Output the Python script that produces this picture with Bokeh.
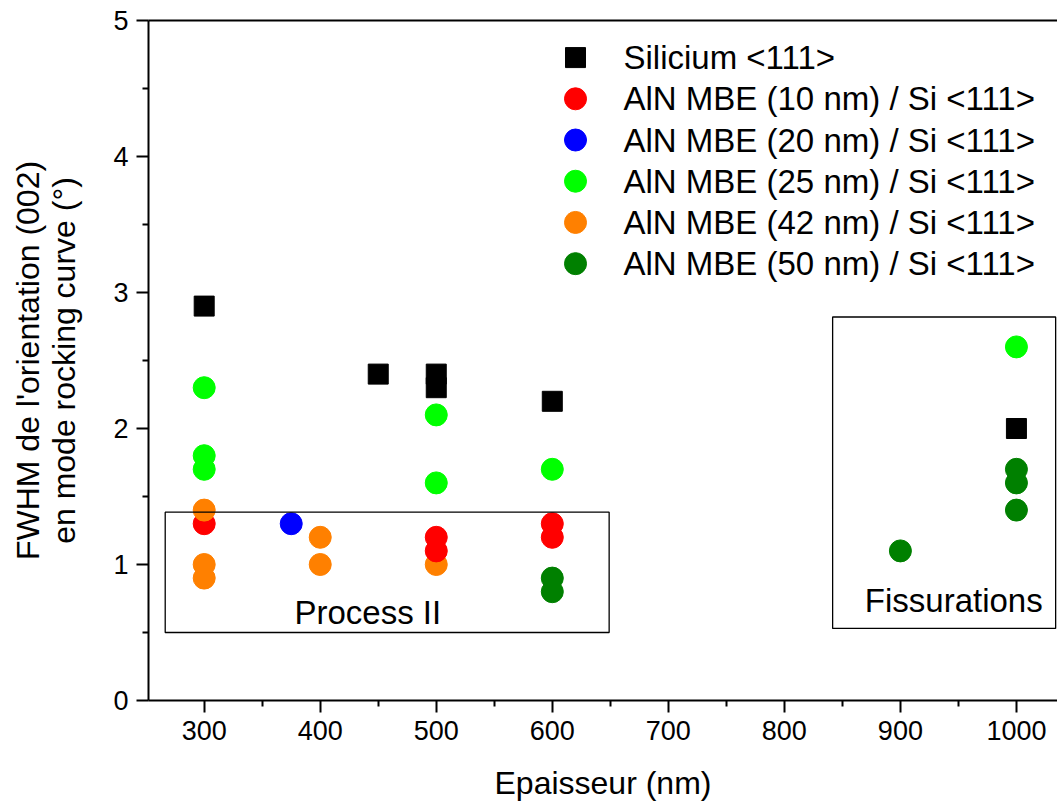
from bokeh.plotting import figure
from bokeh.models import (Range1d, FixedTicker, LinearAxis, BoxAnnotation, Label,
                          ColumnDataSource, CDSView, IndexFilter)
from bokeh.core.properties import value
from bokeh.embed import file_html
from bokeh.resources import INLINE

FONT = "Liberation Sans"

# ---- data ----
x_ticks = [300, 400, 500, 600, 700, 800, 900, 1000]
y_ticks = [0, 1, 2, 3, 4, 5]

si_x = [300, 450, 500, 500, 600, 1000]
si_y = [2.9, 2.4, 2.4, 2.3, 2.2, 2.0]

aln10_x = [300, 500, 500, 600, 600]
aln10_y = [1.3, 1.2, 1.1, 1.3, 1.2]

aln20_x = [375]
aln20_y = [1.3]

aln25_x = [300, 300, 300, 500, 500, 600, 1000]
aln25_y = [2.3, 1.8, 1.7, 2.1, 1.6, 1.7, 2.6]

aln42_x = [300, 300, 300, 400, 400, 500]
aln42_y = [1.4, 1.0, 0.9, 1.2, 1.0, 1.0]

aln50_x = [600, 600, 900, 1000, 1000, 1000]
aln50_y = [0.9, 0.8, 1.1, 1.7, 1.6, 1.4]

series_labels = [
    "Silicium <111>",
    "AlN MBE (10 nm) / Si <111>",
    "AlN MBE (20 nm) / Si <111>",
    "AlN MBE (25 nm) / Si <111>",
    "AlN MBE (42 nm) / Si <111>",
    "AlN MBE (50 nm) / Si <111>",
]
series_colors = ["#000000", "#FF0000", "#0000FF", "#00FF00", "#FF8000", "#008000"]
series_markers = ["square", "circle", "circle", "circle", "circle", "circle"]

x_minor = [x_ticks[0] - 50] + [t + 50 for t in x_ticks]
y_minor = [t + 0.5 for t in y_ticks[:-1]]

# ---- figure ----
p = figure(width=1057, height=805, x_range=Range1d(252, 1035.4), y_range=Range1d(0, 5),
           output_backend="svg", toolbar_location=None,
           min_border_left=148, min_border_right=0, min_border_top=20, min_border_bottom=105)
p.outline_line_color = None
p.grid.visible = False
p.background_fill_color = "white"
# legend rows are placed through an extra range: row index -> vertical slot
p.extra_y_ranges = {"legend": Range1d(start=15.6, end=-0.9)}

p.xaxis.ticker = FixedTicker(ticks=x_ticks, minor_ticks=x_minor)
p.yaxis.ticker = FixedTicker(ticks=y_ticks, minor_ticks=y_minor)
p.xaxis.axis_label = "Epaisseur (nm)"
p.yaxis.axis_label = "FWHM de l'orientation (002)\nen mode rocking curve (°)"

for ax in (p.xaxis[0], p.yaxis[0]):
    ax.axis_line_width = 2
    ax.axis_line_color = "black"
    ax.major_tick_line_width = 2
    ax.minor_tick_line_width = 2
    ax.major_tick_line_color = "black"
    ax.minor_tick_line_color = "black"
    ax.major_tick_in = 0
    ax.major_tick_out = 12
    ax.minor_tick_in = 0
    ax.minor_tick_out = 6
    ax.major_label_text_font = FONT
    ax.major_label_text_font_size = "27px"
    ax.major_label_text_color = "black"
    ax.major_label_standoff = 8
    ax.axis_label_text_font = FONT
    ax.axis_label_text_font_size = "32px"
    ax.axis_label_text_font_style = "normal"
    ax.axis_label_text_color = "black"
    ax.axis_label_text_line_height = 1.0

p.xaxis.axis_label_standoff = 22
p.yaxis.axis_label_standoff = 28

top_axis = LinearAxis(ticker=FixedTicker(ticks=[]), axis_line_width=2, axis_line_color="black",
                      major_tick_out=0, major_tick_in=0, minor_tick_out=0, minor_tick_in=0,
                      major_label_standoff=0)
p.add_layout(top_axis, "above")

# ---- annotations (boxes + texts) ----
p.add_layout(BoxAnnotation(left=266.4, right=649, bottom=0.5, top=1.385,
                           fill_alpha=0, line_color="black", line_alpha=1.0, line_width=1.3))
p.add_layout(BoxAnnotation(left=841.6, right=1033.8, bottom=0.53, top=2.82,
                           fill_alpha=0, line_color="black", line_alpha=1.0, line_width=1.3))
p.add_layout(Label(x=441, y=0.648, text="Process II", text_align="center",
                   text_baseline="alphabetic", text_font=FONT, text_font_size="33px",
                   text_color="black"))
p.add_layout(Label(x=946, y=0.737, text="Fissurations", text_align="center",
                   text_baseline="alphabetic", text_font=FONT, text_font_size="33px",
                   text_color="black"))

# ---- data marks ----
CS = 22
SS = 20
p.scatter(si_x, si_y, marker="square", size=SS, color=series_colors[0])
src42 = ColumnDataSource(data=dict(x=aln42_x, y=aln42_y))
p.scatter("x", "y", source=src42, view=CDSView(filter=IndexFilter(indices=[1, 2, 3, 4, 5])),
          marker="circle", size=CS, color=series_colors[4])
p.scatter(aln10_x, aln10_y, marker="circle", size=CS, color=series_colors[1])
p.scatter(aln20_x, aln20_y, marker="circle", size=CS, color=series_colors[2])
p.scatter(aln25_x, aln25_y, marker="circle", size=CS, color=series_colors[3])
p.scatter("x", "y", source=src42, view=CDSView(filter=IndexFilter(indices=[0])),
          marker="circle", size=CS, color=series_colors[4])
p.scatter(aln50_x, aln50_y, marker="circle", size=CS, color=series_colors[5])

# ---- legend (markers at full size, one row per series) ----
LEGEND_X = 620
leg_src = ColumnDataSource(data=dict(
    x=[LEGEND_X] * len(series_labels),
    row=list(range(len(series_labels))),
    label=series_labels,
    color=series_colors,
    marker=series_markers,
    size=[SS if m == "square" else CS for m in series_markers],
))
p.scatter("x", "row", source=leg_src, y_range_name="legend", marker="marker",
          size="size", color="color")
p.text("x", "row", text="label", source=leg_src, y_range_name="legend",
       x_offset=48, text_baseline="middle", text_align="left",
       text_font=value(FONT), text_font_size="33px", text_color="black")

open("out.html", "w").write(file_html(p, INLINE))
